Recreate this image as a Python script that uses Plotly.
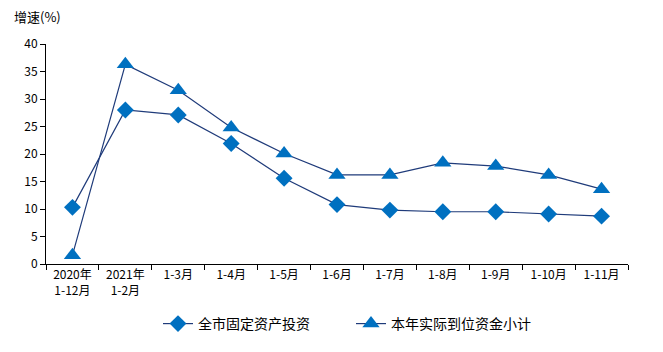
import plotly.graph_objects as go

categories = ["2020年<br>1-12月", "2021年<br>1-2月", "1-3月", "1-4月", "1-5月", "1-6月",
              "1-7月", "1-8月", "1-9月", "1-10月", "1-11月"]
fixed_invest = [10.3, 28.0, 27.1, 21.9, 15.6, 10.8, 9.8, 9.5, 9.5, 9.1, 8.7]
funds_in_place = [1.6, 36.3, 31.6, 24.8, 20.1, 16.2, 16.2, 18.4, 17.8, 16.2, 13.6]
y_ticks = [0, 5, 10, 15, 20, 25, 30, 35, 40]

FONT = "Noto Sans CJK SC"
LINE = "#1F3B7A"
MARK = "#0070C0"

fig = go.Figure()
fig.add_trace(go.Scatter(
    x=categories, y=fixed_invest, name="全市固定资产投资", mode="lines+markers",
    line=dict(color=LINE, width=1.2),
    marker=dict(symbol="diamond", size=13, color=MARK),
))
fig.add_trace(go.Scatter(
    x=categories, y=funds_in_place, name="本年实际到位资金小计", mode="lines+markers",
    line=dict(color=LINE, width=1.2),
    marker=dict(symbol="triangle-up", size=15, color=MARK),
))

fig.update_layout(
    width=663, height=352,
    margin=dict(l=46, r=35, t=44, b=88, autoexpand=False),
    plot_bgcolor="white", paper_bgcolor="white",
    font=dict(family=FONT, size=12, color="black"),
    showlegend=True,
    legend=dict(orientation="h", xref="container", yref="container",
                x=158 / 663, xanchor="left", y=1 - 324 / 352, yanchor="middle",
                font=dict(family=FONT, size=14), itemwidth=30, traceorder="normal",
                entrywidth=148, entrywidthmode="pixels"),
    annotations=[dict(text="增速(%)", x=-0.058, y=1.075, xref="paper", yref="paper",
                      xanchor="left", yanchor="bottom", showarrow=False,
                      font=dict(family=FONT, size=13))],
)

fig.update_xaxes(
    type="category", showline=True, linecolor="black", linewidth=1,
    ticks="outside", tickson="boundaries", ticklen=5, tickcolor="black",
    showgrid=False, tickfont=dict(family=FONT, size=12), range=[-0.5, 10.5],
)
fig.update_yaxes(
    range=[0, 40], tickvals=y_ticks, showline=True, linecolor="black", linewidth=1,
    ticks="outside", ticklen=5, tickcolor="black", showgrid=False, zeroline=False,
    tickfont=dict(family=FONT, size=12),
)

fig.write_html("out.html")
